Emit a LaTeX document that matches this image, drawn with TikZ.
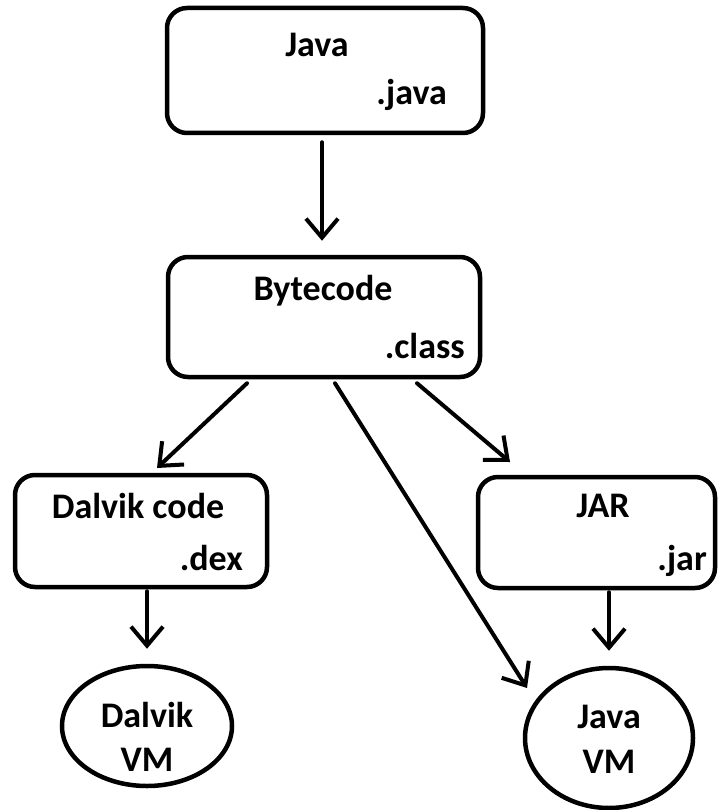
\documentclass[tikz,border=0pt]{standalone}
\usepackage{fontspec}
\setmainfont{Carlito}
\usetikzlibrary{arrows.meta,shapes.geometric}
\begin{document}
\begin{tikzpicture}[x=1pt,y=-1pt,
  box/.style={draw, line width=4.5pt, rounded corners=20pt, inner sep=0pt},
  oval/.style={draw, line width=4.5pt, ellipse, inner sep=0pt},
  txt/.style={font=\fontsize{36}{42}\selectfont\bfseries, inner sep=0pt},
  arr/.style={line width=4pt, line cap=round, line join=round,
    -{Straight Barb[length=19pt,width=32pt,line width=4pt]}}]
\useasboundingbox (0,0) rectangle (719,810);
% boxes
\node[box, minimum width=316pt, minimum height=125pt] (java) at (325,70.5) {};
\node[box, minimum width=312pt, minimum height=120pt] (byte) at (324,317) {};
\node[box, minimum width=252pt, minimum height=112pt] (dalvik) at (141,531) {};
\node[box, minimum width=237pt, minimum height=111pt] (jar) at (596.5,532.5) {};
\node[oval, minimum width=170pt, minimum height=120pt] (dvm) at (147,726) {};
\node[oval, minimum width=168pt, minimum height=140pt] (jvm) at (609,738) {};
% texts
\node[txt, anchor=base] (t1) at (317,57) {Java};
\node[txt, anchor=base east] (t2) at (447,105) {.java};
\node[txt, anchor=base] (t3) at (323,300) {Bytecode};
\node[txt, anchor=base east] (t4) at (465,358) {.class};
\node[txt, anchor=base] (t5) at (138,518) {Dalvik code};
\node[txt, anchor=base east] (t6) at (243,570) {.dex};
\node[txt, anchor=base] (t7) at (603,517) {JAR};
\node[txt, anchor=base east] (t8) at (707,570) {.jar};
\node[txt, anchor=base] (t9) at (147,727) {Dalvik};
\node[txt, anchor=base] (t10) at (147,771) {VM};
\node[txt, anchor=base] (t11) at (609,728) {Java};
\node[txt, anchor=base] (t12) at (609,773) {VM};
% tips
\coordinate (tipD) at (157,468);
\coordinate (tipJ) at (510,462);
\coordinate (tipV) at (527,688);
% arrows
\draw[arr, shorten <=7pt, shorten >=14pt] ([xshift=-3pt]java.south) -- ([xshift=-2pt]byte.north);
\draw[arr] ([xshift=-77pt,yshift=-4pt]byte.south) -- (tipD);
\draw[arr] ([xshift=93pt,yshift=-4pt]byte.south) -- (tipJ);
\draw[arr] ([xshift=11pt,yshift=-4pt]byte.south) -- (tipV);
\draw[arr, shorten <=2pt, shorten >=15pt] (dalvik.south -| dvm.north) -- (dvm.north);
\draw[arr, shorten <=2pt, shorten >=15pt] (jar.south -| jvm.north) -- (jvm.north);
\end{tikzpicture}
\end{document}
